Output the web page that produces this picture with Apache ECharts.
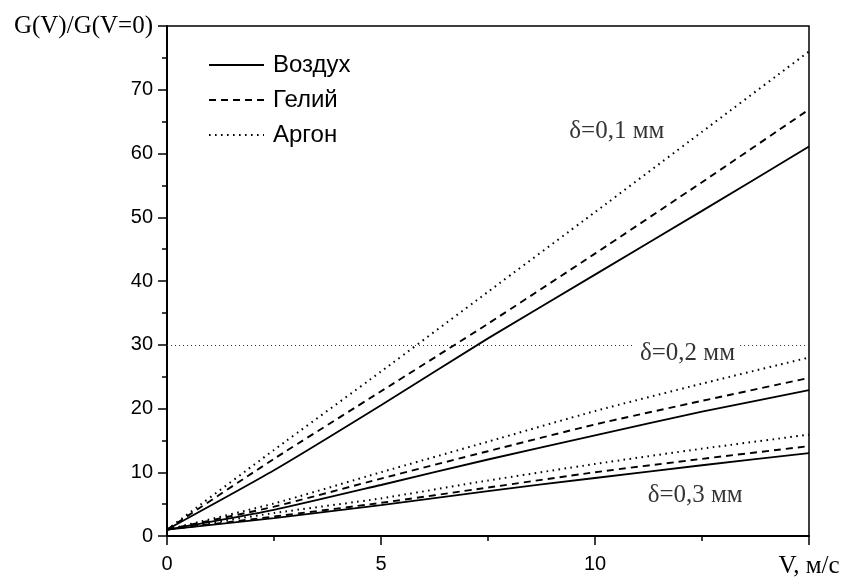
<!DOCTYPE html>
<html>
<head>
<meta charset="utf-8">
<script src="https://cdn.jsdelivr.net/npm/echarts@6/dist/echarts.min.js"></script>
<style>html,body{margin:0;padding:0;background:#fff;}#c{width:843px;height:579px;}</style>
</head>
<body>
<div id="c"></div>
<script>
// Velocity, m/s
const velocity = [0, 2.5, 5, 7.5, 10, 12.5, 15];
// delta = 0.1 mm
const air01    = [1, 10.3, 20.5, 31.0, 41.0, 51.0, 61.1];
const helium01 = [1, 12.1, 22.7, 33.3, 44.3, 55.5, 66.9];
const argon01  = [1, 13.5, 25.8, 38.3, 50.8, 63.4, 76.0];
// delta = 0.2 mm
const air02    = [1, 4.1, 8.0, 12.0, 15.8, 19.5, 22.9];
const helium02 = [1, 4.6, 9.0, 13.3, 17.5, 21.2, 24.8];
const argon02  = [1, 5.1, 10.0, 14.8, 19.6, 23.9, 28.0];
// delta = 0.3 mm
const air03    = [1, 2.8, 4.85, 7.05, 9.1, 11.1, 13.0];
const helium03 = [1, 3.05, 5.2, 7.6, 10.0, 12.1, 14.1];
const argon03  = [1, 3.6, 5.9, 8.7, 11.3, 13.7, 15.9];

const legendNames = ['Воздух', 'Гелий', 'Аргон'];
const xTickValues = [0, 5, 10];
const yTickValues = [0, 10, 20, 30, 40, 50, 60, 70];
const xAxisTitle = 'V, м/с';
const yAxisTitle = 'G(V)/G(V=0)';

// reference line y = 30 (with gap for the label)
const refLineY = 30;
const refLineSegments = [[0, 10.93], [13.39, 15]];

// annotation labels [x, y, text]
const annotations = [
  [10.51, 63.5, 'δ=0,1 мм'],
  [12.16, 28.6, 'δ=0,2 мм'],
  [12.34, 6.3, 'δ=0,3 мм']
];

const styles = {
  'Воздух': { type: 'solid', width: 1.8 },
  'Гелий':  { type: [7, 5], width: 1.9 },
  'Аргон':  { type: [1.6, 4.4], width: 2 }
};

function pair(ys) { return velocity.map((v, i) => [v, ys[i]]); }

const groups = [
  ['Воздух', [air01, air02, air03]],
  ['Гелий', [helium01, helium02, helium03]],
  ['Аргон', [argon01, argon02, argon03]]
];

const series = [];
groups.forEach(([name, arrs]) => {
  arrs.forEach(ys => {
    series.push({
      type: 'line', name: name, data: pair(ys),
      symbol: 'none', showSymbol: false, smooth: 0.2,
      lineStyle: { color: '#000', type: styles[name].type, width: styles[name].width },
      itemStyle: { color: '#000' },
      z: 3
    });
  });
});

// reference line
series.push({
  type: 'line', name: 'ref', data: [], symbol: 'none',
  markLine: {
    silent: true, symbol: 'none', label: { show: false },
    lineStyle: { color: '#333', type: [1, 3], width: 1 },
    data: refLineSegments.map(s => [{ coord: [s[0], refLineY] }, { coord: [s[1], refLineY] }])
  }
});

// annotations
series.push({
  type: 'scatter', name: 'ann', symbolSize: 0, silent: true,
  data: annotations.map(a => ({ value: [a[0], a[1]], name: a[2] })),
  label: {
    show: true, position: 'inside', formatter: p => p.name,
    fontFamily: 'Liberation Serif, Times New Roman, serif', fontSize: 25, color: '#000'
  },
  z: 10
});

const chart = echarts.init(document.getElementById('c'), null, { renderer: 'canvas' });
chart.setOption({
  animation: false,
  backgroundColor: '#fff',
  grid: { left: 167, right: 34, top: 26, bottom: 36, show: true, borderColor: '#000', borderWidth: 1.5, containLabel: false },
  legend: {
    data: legendNames, orient: 'vertical', left: 203, top: 48,
    itemWidth: 55, itemHeight: 14, itemGap: 11,
    itemStyle: { opacity: 0, borderWidth: 0 },
    textStyle: { fontFamily: 'Liberation Sans, Arial, sans-serif', fontSize: 24, color: '#000', lineHeight: 22, padding: [0, 0, 0, 4] }
  },
  xAxis: {
    type: 'value', min: 0, max: 15, interval: 5,
    axisLine: { show: true, lineStyle: { color: '#000', width: 2 } },
    axisTick: { show: true, length: 9, lineStyle: { color: '#000', width: 1.5 } },
    minorTick: { show: true, splitNumber: 2, length: 5, lineStyle: { color: '#000', width: 1.5 } },
    splitLine: { show: false },
    axisLabel: {
      margin: 18, color: '#000', fontFamily: 'Liberation Sans, Arial, sans-serif', fontSize: 20,
      showMaxLabel: true,
      formatter: v => (v === 15 ? '{s|' + xAxisTitle + '}' : (xTickValues.includes(v) ? String(v) : '')),
      rich: { s: { fontFamily: 'Liberation Serif, Times New Roman, serif', fontSize: 25, color: '#000' } }
    }
  },
  yAxis: {
    type: 'value', min: 0, max: 80, interval: 10,
    axisLine: { show: true, lineStyle: { color: '#000', width: 2 } },
    axisTick: { show: true, length: 9, lineStyle: { color: '#000', width: 1.5 } },
    minorTick: { show: true, splitNumber: 2, length: 5, lineStyle: { color: '#000', width: 1.5 } },
    splitLine: { show: false },
    axisLabel: {
      margin: 14, color: '#000', fontFamily: 'Liberation Sans, Arial, sans-serif', fontSize: 20,
      showMaxLabel: true,
      formatter: v => (v === 80 ? '{s|' + yAxisTitle + '}' : (yTickValues.includes(v) ? String(v) : '')),
      rich: { s: { fontFamily: 'Liberation Serif, Times New Roman, serif', fontSize: 25, color: '#000' } }
    }
  },
  series: series
});
</script>
</body>
</html>
